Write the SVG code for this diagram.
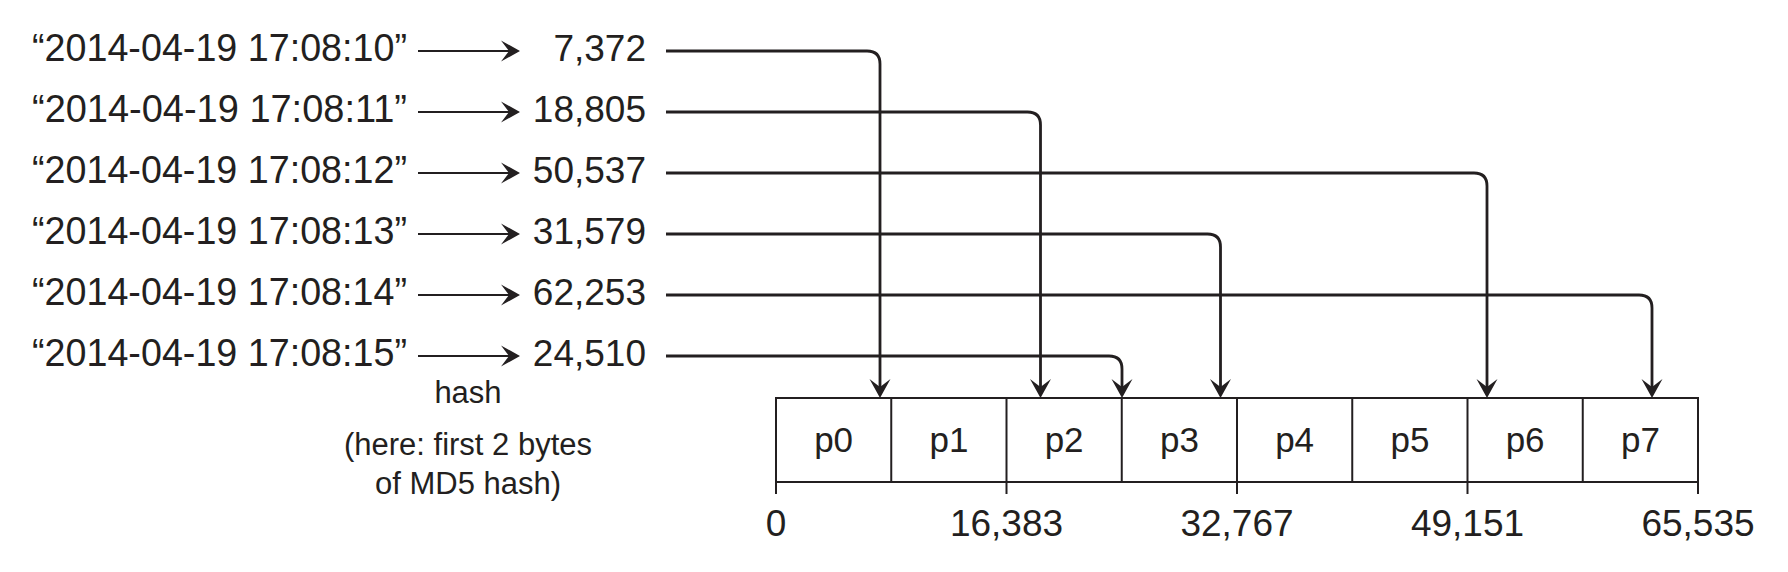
<svg xmlns="http://www.w3.org/2000/svg" width="1788" height="572" viewBox="0 0 1788 572">
<style>
text{font-family:"Liberation Sans",Arial,sans-serif;fill:#231f20}
.lbl{font-size:38px}
.num{font-size:37px;text-anchor:end}
.note{font-size:31px;text-anchor:middle}
.cell{font-size:35px;text-anchor:middle}
.axis{font-size:37px;text-anchor:middle}
.conn{fill:none;stroke:#231f20;stroke-width:2.8}
.hash{fill:none;stroke:#231f20;stroke-width:2}
.box{fill:#fff;stroke:#231f20;stroke-width:2}
.tick{stroke:#231f20;stroke-width:2}
</style>
<defs>
<marker id="ah" markerUnits="userSpaceOnUse" orient="auto" refX="-8" refY="0" markerWidth="22" markerHeight="22" overflow="visible">
<path d="M0,0 L-19,-10.5 L-11,0 L-19,10.5 Z" fill="#231f20"/>
</marker>
</defs>
<g id="keys">
<text class="lbl" x="32" y="61" textLength="375" lengthAdjust="spacingAndGlyphs">“2014-04-19 17:08:10”</text>
<text class="lbl" x="32" y="122" textLength="375" lengthAdjust="spacingAndGlyphs">“2014-04-19 17:08:11”</text>
<text class="lbl" x="32" y="183" textLength="375" lengthAdjust="spacingAndGlyphs">“2014-04-19 17:08:12”</text>
<text class="lbl" x="32" y="244" textLength="375" lengthAdjust="spacingAndGlyphs">“2014-04-19 17:08:13”</text>
<text class="lbl" x="32" y="305" textLength="375" lengthAdjust="spacingAndGlyphs">“2014-04-19 17:08:14”</text>
<text class="lbl" x="32" y="366" textLength="375" lengthAdjust="spacingAndGlyphs">“2014-04-19 17:08:15”</text>
</g>
<g id="hashes">
<text class="num" x="646" y="61">7,372</text>
<text class="num" x="646" y="122">18,805</text>
<text class="num" x="646" y="183">50,537</text>
<text class="num" x="646" y="244">31,579</text>
<text class="num" x="646" y="305">62,253</text>
<text class="num" x="646" y="366">24,510</text>
</g>
<g id="hash-note">
<text class="note" x="468" y="403">hash</text>
<text class="note" x="468" y="455">(here: first 2 bytes</text>
<text class="note" x="468" y="494">of MD5 hash)</text>
</g>
<g id="partitions">
<rect class="box" x="776" y="398" width="922" height="84"/>
<line class="tick" x1="891.25" y1="398" x2="891.25" y2="482"/>
<line class="tick" x1="1006.5" y1="398" x2="1006.5" y2="482"/>
<line class="tick" x1="1121.75" y1="398" x2="1121.75" y2="482"/>
<line class="tick" x1="1237" y1="398" x2="1237" y2="482"/>
<line class="tick" x1="1352.25" y1="398" x2="1352.25" y2="482"/>
<line class="tick" x1="1467.5" y1="398" x2="1467.5" y2="482"/>
<line class="tick" x1="1582.75" y1="398" x2="1582.75" y2="482"/>
<text class="cell" x="833.6" y="452">p0</text>
<text class="cell" x="948.9" y="452">p1</text>
<text class="cell" x="1064.1" y="452">p2</text>
<text class="cell" x="1179.4" y="452">p3</text>
<text class="cell" x="1294.6" y="452">p4</text>
<text class="cell" x="1409.9" y="452">p5</text>
<text class="cell" x="1525.1" y="452">p6</text>
<text class="cell" x="1640.4" y="452">p7</text>
</g>
<g id="axis">
<line class="tick" x1="776" y1="482" x2="776" y2="494"/>
<line class="tick" x1="1006.5" y1="482" x2="1006.5" y2="494"/>
<line class="tick" x1="1237" y1="482" x2="1237" y2="494"/>
<line class="tick" x1="1467.5" y1="482" x2="1467.5" y2="494"/>
<line class="tick" x1="1698" y1="482" x2="1698" y2="494"/>
<text class="axis" x="776" y="536">0</text>
<text class="axis" x="1006.5" y="536">16,383</text>
<text class="axis" x="1237" y="536">32,767</text>
<text class="axis" x="1467.5" y="536">49,151</text>
<text class="axis" x="1698" y="536">65,535</text>
</g>
<g id="connectors">
<line class="hash" x1="418" y1="51" x2="512" y2="51" marker-end="url(#ah)"/>
<line class="hash" x1="418" y1="112" x2="512" y2="112" marker-end="url(#ah)"/>
<line class="hash" x1="418" y1="173" x2="512" y2="173" marker-end="url(#ah)"/>
<line class="hash" x1="418" y1="234" x2="512" y2="234" marker-end="url(#ah)"/>
<line class="hash" x1="418" y1="295" x2="512" y2="295" marker-end="url(#ah)"/>
<line class="hash" x1="418" y1="356" x2="512" y2="356" marker-end="url(#ah)"/>
<path class="conn" d="M666,51 H867 Q880,51 880,64 V390" marker-end="url(#ah)"/>
<path class="conn" d="M666,112 H1027.5 Q1040.5,112 1040.5,125 V390" marker-end="url(#ah)"/>
<path class="conn" d="M666,173 H1474 Q1487,173 1487,186 V390" marker-end="url(#ah)"/>
<path class="conn" d="M666,234 H1207.5 Q1220.5,234 1220.5,247 V390" marker-end="url(#ah)"/>
<path class="conn" d="M666,295 H1639 Q1652,295 1652,308 V390" marker-end="url(#ah)"/>
<path class="conn" d="M666,356 H1109 Q1122,356 1122,369 V390" marker-end="url(#ah)"/>
</g>
</svg>
